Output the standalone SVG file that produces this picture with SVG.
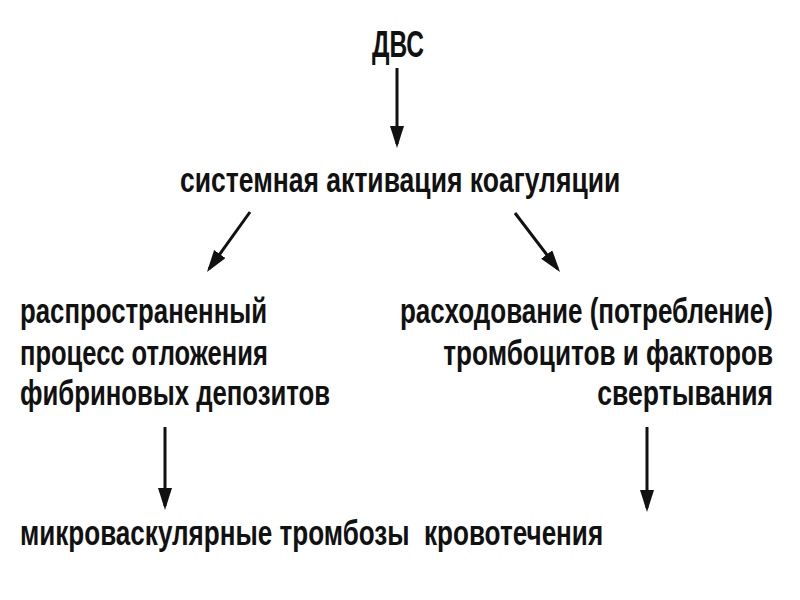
<svg xmlns="http://www.w3.org/2000/svg" width="800" height="600" viewBox="0 0 800 600">
<defs>
<style>
text{font-family:"Liberation Sans","Arial",sans-serif;font-weight:bold;font-size:36px;fill:#111;}
.r{text-anchor:end;}
.c line{stroke:#111;stroke-width:3;marker-end:url(#ah);}
</style>
<marker id="ah" markerUnits="userSpaceOnUse" markerWidth="24" markerHeight="16" refX="18" refY="7" orient="auto">
<path d="M0,0 L22,7 L0,14 Z" fill="#111"/>
</marker>
</defs>
<rect width="800" height="600" fill="#fff"/>
<g id="n-dvs"><text x="372" y="57" textLength="52" lengthAdjust="spacingAndGlyphs">ДВС</text></g>
<g id="n-activation" transform="translate(180,0) scale(0.7,1)"><text x="0" y="192" textLength="629" lengthAdjust="spacingAndGlyphs">системная активация коагуляции</text></g>
<g id="n-left" transform="translate(20,0) scale(0.7,1)">
<text x="0" y="323" textLength="353" lengthAdjust="spacingAndGlyphs">распространенный</text>
<text x="0" y="365" textLength="354" lengthAdjust="spacingAndGlyphs">процесс отложения</text>
<text x="0" y="405" textLength="443" lengthAdjust="spacingAndGlyphs">фибриновых депозитов</text>
</g>
<g id="n-right" transform="translate(773,0) scale(0.7,1)">
<text class="r" x="0" y="323" textLength="533" lengthAdjust="spacingAndGlyphs">расходование (потребление)</text>
<text class="r" x="0" y="365" textLength="471" lengthAdjust="spacingAndGlyphs">тромбоцитов и факторов</text>
<text class="r" x="0" y="405" textLength="251" lengthAdjust="spacingAndGlyphs">свертывания</text>
</g>
<g id="n-outcomes" transform="translate(20,0) scale(0.7,1)"><text x="0" y="545" textLength="833" lengthAdjust="spacingAndGlyphs" xml:space="preserve" style="white-space:pre">микроваскулярные тромбозы  кровотечения</text></g>
<g id="connectors" class="c">
<line x1="397" y1="68" x2="397" y2="144"/>
<line x1="250" y1="212" x2="209.3" y2="268.7"/>
<line x1="515" y1="213" x2="557.6" y2="268.8"/>
<line x1="165" y1="427" x2="165" y2="506"/>
<line x1="647" y1="427" x2="647" y2="508"/>
</g>
</svg>
